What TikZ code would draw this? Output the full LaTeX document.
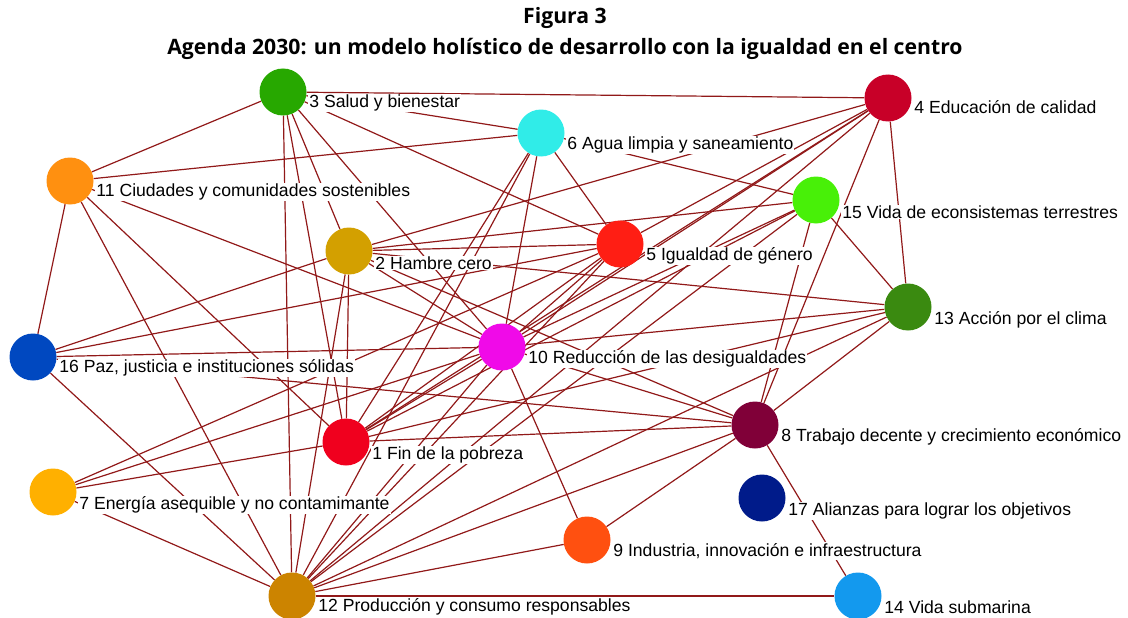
\documentclass[tikz,border=0pt]{standalone}
\usepackage{fontspec}
\setmainfont{Liberation Sans}
\newfontfamily\titlefont{Open Sans}
\usetikzlibrary{backgrounds}
\definecolor{linkred}{RGB}{145,25,25}
\definecolor{c1}{RGB}{240,0,30}
\definecolor{c2}{RGB}{211,160,0}
\definecolor{c3}{RGB}{39,168,0}
\definecolor{c4}{RGB}{200,0,40}
\definecolor{c5}{RGB}{255,30,20}
\definecolor{c6}{RGB}{48,236,232}
\definecolor{c7}{RGB}{255,176,0}
\definecolor{c8}{RGB}{128,0,56}
\definecolor{c9}{RGB}{255,80,16}
\definecolor{c10}{RGB}{240,10,232}
\definecolor{c11}{RGB}{255,144,16}
\definecolor{c12}{RGB}{204,132,0}
\definecolor{c13}{RGB}{58,138,16}
\definecolor{c14}{RGB}{19,153,238}
\definecolor{c15}{RGB}{72,240,8}
\definecolor{c16}{RGB}{0,72,192}
\definecolor{c17}{RGB}{0,27,138}

\begin{document}
\begin{tikzpicture}[x=1pt, y=-1pt,
    sdg/.style={circle, minimum size=47pt, inner sep=0pt},
    lbl/.style={anchor=west, fill=white, inner sep=1pt, font=\fontsize{17.6}{19}\selectfont},
    link/.style={draw=linkred, line width=1.2pt}]
    \useasboundingbox (0,0) rectangle (1128,618);

    % title
    \node[font=\titlefont\bfseries\fontsize{21.2}{24}\selectfont] (fig) at (565,18) {Figura 3};
    \node[font=\titlefont\bfseries\fontsize{21.2}{24}\selectfont] (title) at (565,49) {Agenda 2030: un modelo holístico de desarrollo con la igualdad en el centro};

    % objetivos
    \node[sdg, fill=c1] (pobreza) at (346,442) {};
    \node[sdg, fill=c2] (hambre) at (349,251) {};
    \node[sdg, fill=c3] (salud) at (283,92) {};
    \node[sdg, fill=c4] (educ) at (888,98) {};
    \node[sdg, fill=c5] (genero) at (620,244) {};
    \node[sdg, fill=c6] (agua) at (541,133) {};
    \node[sdg, fill=c7] (energia) at (53,492) {};
    \node[sdg, fill=c8] (trabajo) at (755,425) {};
    \node[sdg, fill=c9] (industria) at (587,540) {};
    \node[sdg, fill=c10] (desig) at (502,347) {};
    \node[sdg, fill=c11] (ciudades) at (70,181) {};
    \node[sdg, fill=c12] (prod) at (292,596) {};
    \node[sdg, fill=c13] (clima) at (908,307) {};
    \node[sdg, fill=c14] (submar) at (858,596) {};
    \node[sdg, fill=c15] (terr) at (816,200) {};
    \node[sdg, fill=c16] (paz) at (33,357) {};
    \node[sdg, fill=c17] (alianzas) at (762,498) {};

    % etiquetas
    \node[lbl] (lpobreza) at ([shift={(1.5,13)}]pobreza.east) {1 Fin de la pobreza};
    \node[lbl] (lhambre) at ([shift={(1.5,12)}]hambre.east) {2 Hambre cero};
    \node[lbl] (lsalud) at ([shift={(1.5,11)}]salud.east) {3 Salud y bienestar};
    \node[lbl] (leduc) at ([shift={(1.5,9)}]educ.east) {4 Educación de calidad};
    \node[lbl] (lgenero) at ([shift={(1.5,12)}]genero.east) {5 Igualdad de género};
    \node[lbl] (lagua) at ([shift={(1.5,12)}]agua.east) {6 Agua limpia y saneamiento};
    \node[lbl] (lenergia) at ([shift={(1.5,13)}]energia.east) {7 Energía asequible y no contamimante};
    \node[lbl] (ltrabajo) at ([shift={(1.5,12)}]trabajo.east) {8 Trabajo decente y crecimiento económico};
    \node[lbl] (lindustria) at ([shift={(1.5,11)}]industria.east) {9 Industria, innovación e infraestructura};
    \node[lbl] (ldesig) at ([shift={(1.5,12)}]desig.east) {10 Reducción de las desigualdades};
    \node[lbl] (lciudades) at ([shift={(1.5,11)}]ciudades.east) {11 Ciudades y comunidades sostenibles};
    \node[lbl] (lprod) at ([shift={(1.5,11)}]prod.east) {12 Producción y consumo responsables};
    \node[lbl] (lclima) at ([shift={(1.5,13)}]clima.east) {13 Acción por el clima};
    \node[lbl] (lsubmar) at ([shift={(1.5,11)}]submar.east) {14 Vida submarina};
    \node[lbl] (lterr) at ([shift={(1.5,12)}]terr.east) {15 Vida de econsistemas terrestres};
    \node[lbl] (lpaz) at ([shift={(1.5,11)}]paz.east) {16 Paz, justicia e instituciones sólidas};
    \node[lbl] (lalianzas) at ([shift={(1.5,13)}]alianzas.east) {17 Alianzas para lograr los objetivos};

    % vinculos
    \begin{scope}[on background layer]
    \path[link] (salud) edge (educ) edge (agua) edge (genero) edge (ciudades)
        edge (hambre) edge (desig) edge (pobreza) edge (prod);
    \path[link] (ciudades) edge (agua) edge (paz) edge (prod) edge (pobreza) edge (desig);
    \path[link] (agua) edge (genero) edge (terr) edge (desig) edge (pobreza) edge (prod);
    \path[link] (hambre) edge (educ) edge (terr) edge (genero) edge (clima) edge (desig)
        edge (trabajo) edge (pobreza) edge (prod) edge (paz);
    \path[link] (paz) edge (genero) edge (desig) edge (trabajo) edge (prod);
    \path[link] (energia) edge (desig) edge (pobreza) edge (prod);
    \path[link] (genero) edge (educ) edge (desig) edge (pobreza) edge (prod) edge (energia);
    \path[link] (desig) edge (educ) edge (terr) edge (industria) edge (prod) edge (trabajo)
        edge (pobreza) edge (clima);
    \path[link] (educ) edge (clima) edge (trabajo) edge (pobreza) edge (prod);
    \path[link] (terr) edge (clima) edge (trabajo) edge (pobreza) edge (prod);
    \path[link] (clima) edge (trabajo) edge (pobreza) edge (prod);
    \path[link] (trabajo) edge (pobreza) edge (prod) edge (industria) edge (submar);
    \path[link] (industria) edge (prod);
    \path[link] (prod) edge (submar);
    \end{scope}
\end{tikzpicture}
\end{document}
